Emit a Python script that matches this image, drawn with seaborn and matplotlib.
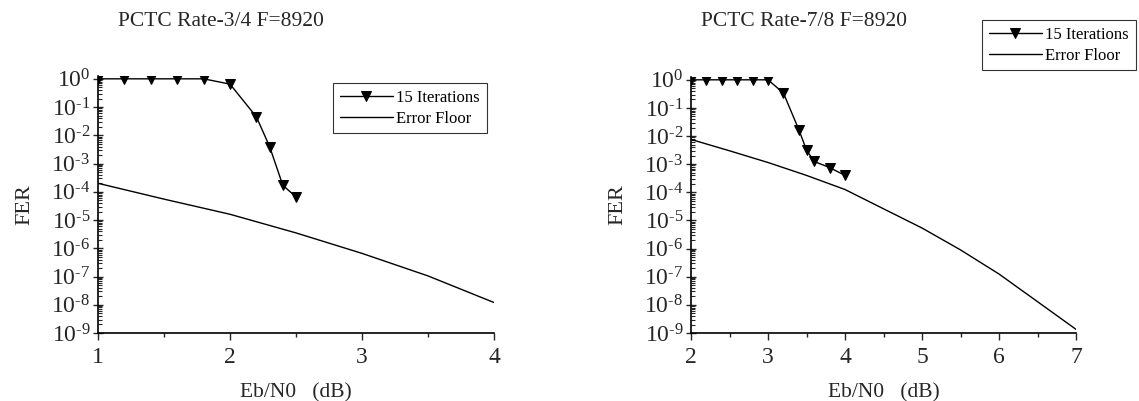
import numpy as np
import pandas as pd
import matplotlib
matplotlib.use("Agg")
import matplotlib.pyplot as plt
import seaborn as sns
from matplotlib.ticker import FixedLocator, FixedFormatter, LogLocator, NullFormatter

# ---- data ----
left_title = "PCTC Rate-3/4 F=8920"
right_title = "PCTC Rate-7/8 F=8920"

l_iter_x = [1.0, 1.2, 1.4, 1.6, 1.8, 2.0, 2.2, 2.3, 2.4, 2.5]
l_iter_y = [1.0, 1.0, 1.0, 1.0, 1.0, 0.65, 0.045, 4.0e-3, 1.7e-4, 6.6e-5]
l_floor_x = [1.0, 1.5, 2.0, 2.5, 3.0, 3.5, 4.0]
l_floor_y = [2.0e-4, 5.5e-5, 1.6e-5, 3.5e-6, 6.6e-7, 1.05e-7, 1.2e-8]

r_iter_x = [2.0, 2.2, 2.4, 2.6, 2.8, 3.0, 3.2, 3.4, 3.5, 3.6, 3.8, 4.0]
r_iter_y = [1.0, 1.0, 1.0, 1.0, 1.0, 1.0, 0.34, 0.017, 3.2e-3, 1.25e-3, 7.6e-4, 4.0e-4]
r_floor_x = [2.0, 2.5, 3.0, 3.5, 4.0, 4.5, 5.0, 5.5, 6.0, 6.5, 7.0]
r_floor_y = [7.6e-3, 3.0e-3, 1.15e-3, 4.0e-4, 1.26e-4, 2.6e-5, 5.4e-6, 9.0e-7, 1.25e-7, 1.3e-8, 1.35e-9]

y_exps = list(range(0, -10, -1))
y_tick_labels = [r"$10^{\text{%d}}$" % e for e in y_exps]
l_xticks = [1, 2, 3, 4]
r_xticks = [2, 3, 4, 5, 6, 7]
xlabel = "Eb/N0   (dB)"
ylabel = "FER"
series_names = ["15 Iterations", "Error Floor"]

# ---- style ----
sns.set_style("ticks")
plt.rcParams["font.family"] = ["Liberation Serif", "DejaVu Serif"]
plt.rcParams["mathtext.fontset"] = "custom"
plt.rcParams["mathtext.rm"] = "Liberation Serif"
plt.rcParams["mathtext.it"] = "Liberation Serif:italic"

fig = plt.figure(figsize=(11.39, 4.01), dpi=100)
axL = fig.add_axes([98/1139, 1-333/401, 396/1139, 257/401])
axR = fig.add_axes([691/1139, 1-333/401, 385/1139, 256/401])


def draw(ax, ix, iy, fx, fy, xlim, xticks, legend_anchor):
    d1 = pd.DataFrame({"x": ix, "y": iy})
    d2 = pd.DataFrame({"x": fx, "y": fy})
    sns.lineplot(data=d1, x="x", y="y", ax=ax, color="black", lw=1.0,
                 marker="v", markersize=7, markeredgecolor="black",
                 label=series_names[0])
    sns.lineplot(data=d2, x="x", y="y", ax=ax, color="black", lw=1.0,
                 label=series_names[1])
    ax.set_yscale("log")
    ax.set_ylim(1e-9, 10**0.1)
    ax.set_xlim(*xlim)
    ax.yaxis.set_major_locator(FixedLocator([10.0**e for e in y_exps]))
    ax.yaxis.set_major_formatter(FixedFormatter(y_tick_labels))
    ax.yaxis.set_minor_locator(LogLocator(base=10, subs=np.arange(2, 10), numticks=100))
    ax.yaxis.set_minor_formatter(NullFormatter())
    ax.set_xticks(xticks)
    ax.set_xticks([t + 0.5 for t in xticks[:-1]], minor=True)
    ax.set_xticklabels([str(t) for t in xticks])
    for s in ["top", "right"]:
        ax.spines[s].set_visible(False)
    for s in ["left", "bottom"]:
        ax.spines[s].set_linewidth(1.2)
        ax.spines[s].set_color("black")
    ax.tick_params(axis="y", which="major", direction="inout", length=7, width=1,
                   labelsize=17, pad=2)
    ax.tick_params(axis="y", which="minor", direction="in", length=3, width=0.8)
    ax.tick_params(axis="x", which="major", direction="out", length=5, width=1,
                   labelsize=17, pad=5)
    ax.tick_params(axis="x", which="minor", direction="out", length=3, width=1)
    ax.set_xlabel(xlabel, fontsize=15.5, labelpad=11)
    ax.set_ylabel(ylabel, fontsize=16, labelpad=12)
    leg = ax.legend(loc="upper left", bbox_to_anchor=legend_anchor,
                    bbox_transform=fig.transFigure, fontsize=12, frameon=True,
                    fancybox=False, edgecolor="black", borderpad=0.4,
                    handlelength=3.2, handletextpad=0.2, labelspacing=0.3,
                    borderaxespad=0)
    leg.get_frame().set_linewidth(0.8)
    for t in leg.get_texts():
        t.set_color("black")


draw(axL, l_iter_x, l_iter_y, l_floor_x, l_floor_y, (1, 4), l_xticks,
     (333/1139, 1-83/401))
draw(axR, r_iter_x, r_iter_y, r_floor_x, r_floor_y, (2, 7), r_xticks,
     (982/1139, 1-20/401))

fig.text(221/1139, 1-22/401, left_title, ha="center", va="center", fontsize=15.5)
fig.text(804/1139, 1-22/401, right_title, ha="center", va="center", fontsize=15.5)

fig.savefig("out.png", dpi=100, facecolor="white")
